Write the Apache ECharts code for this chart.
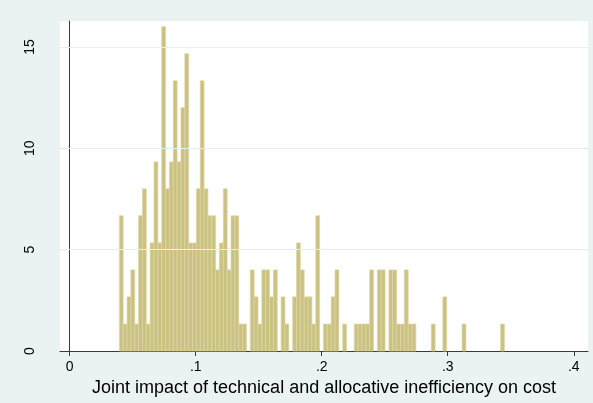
<!DOCTYPE html>
<html>
<head>
<meta charset="utf-8">
<script src="https://cdn.jsdelivr.net/npm/echarts@6/dist/echarts.min.js"></script>
<style>
  html, body { margin: 0; padding: 0; background: #eaf2f3; }
  #chart { width: 593px; height: 403px; }
</style>
</head>
<body>
<div id="chart"></div>
<script>
// Histogram of the joint cost-inefficiency measure: 100 equal-width bins, density scale.
const binStart = 0.0394;
const binWidth = 0.003056;

const density = [
  6.67, 1.33, 2.67, 4, 1.33, 6.67, 8, 1.33, 5.33, 9.33,
  5.33, 16, 8, 9.33, 13.33, 9.33, 12, 14.67, 5.33, 5.33,
  8, 13.33, 8, 6.67, 6.67, 4, 5.33, 8, 4, 6.67,
  6.67, 1.33, 1.33, 0, 4, 2.67, 1.33, 4, 4, 2.67,
  4, 0, 2.67, 1.33, 0, 2.67, 5.33, 4, 2.67, 2.67,
  1.33, 6.67, 0, 1.33, 1.33, 2.67, 4, 0, 1.33, 0,
  0, 1.33, 1.33, 1.33, 1.33, 4, 0, 4, 4, 0,
  4, 4, 1.33, 1.33, 4, 1.33, 1.33, 0, 0, 0,
  0, 1.33, 0, 0, 2.67, 0, 0, 0, 0, 1.33,
  0, 0, 0, 0, 0, 0, 0, 0, 0, 1.33
];

const xTicks = [0, 0.1, 0.2, 0.3, 0.4];
const xTickLabels = ['0', '.1', '.2', '.3', '.4'];
const yTicks = [0, 5, 10, 15];
const yGridLines = [5, 10, 15];
const xTitle = 'Joint impact of technical and allocative inefficiency on cost';

// Each bar: [left edge, right edge, density]
const bars = density
  .map((d, i) => [binStart + i * binWidth, binStart + (i + 1) * binWidth, d])
  .filter(b => b[2] > 0);

const FONT = '"Liberation Sans", Arial, Helvetica, sans-serif';
const AXIS_COLOR = '#3a3a3a';

const chart = echarts.init(document.getElementById('chart'), null, { renderer: 'canvas' });

chart.setOption({
  animation: false,
  backgroundColor: '#eaf2f3',
  textStyle: { fontFamily: FONT },
  grid: {
    left: 60, right: 5, top: 21, bottom: 52,
    show: true, backgroundColor: '#ffffff', borderWidth: 0
  },
  xAxis: {
    type: 'value',
    min: -0.0077,
    max: 0.4113,
    name: xTitle,
    nameLocation: 'middle',
    nameGap: 24,
    nameTextStyle: { fontSize: 18, color: '#000', fontFamily: FONT },
    axisLine: { show: true, onZero: false, lineStyle: { color: AXIS_COLOR, width: 1 } },
    axisTick: { show: true, customValues: xTicks, length: 5, lineStyle: { color: AXIS_COLOR } },
    axisLabel: {
      customValues: xTicks,
      formatter: v => xTickLabels[xTicks.findIndex(t => Math.abs(t - v) < 1e-9)],
      fontSize: 14, color: '#000', margin: 9, fontFamily: FONT
    },
    splitLine: { show: false }
  },
  yAxis: {
    type: 'value',
    min: 0,
    max: 16.28,
    axisLine: { show: true, lineStyle: { color: AXIS_COLOR, width: 1 } },
    axisTick: { show: true, customValues: yTicks, length: 6, lineStyle: { color: AXIS_COLOR } },
    axisLabel: {
      customValues: yTicks,
      rotate: 90,
      fontSize: 14, color: '#000', margin: 23, fontFamily: FONT
    },
    splitLine: { show: false }
  },
  series: [
    {
      // horizontal grid lines behind the bars
      type: 'line',
      data: [],
      z: 1,
      silent: true,
      markLine: {
        silent: true,
        symbol: 'none',
        label: { show: false },
        lineStyle: { color: '#e6eff0', width: 1, type: 'solid' },
        data: yGridLines.map(v => ({ yAxis: v }))
      }
    },
    {
      type: 'custom',
      z: 2,
      data: bars,
      encode: { x: [0, 1], y: 2 },
      renderItem: (params, api) => {
        const topLeft = api.coord([api.value(0), api.value(2)]);
        const bottomRight = api.coord([api.value(1), 0]);
        return {
          type: 'rect',
          shape: {
            x: topLeft[0],
            y: topLeft[1],
            width: bottomRight[0] - topLeft[0],
            height: bottomRight[1] - topLeft[1]
          },
          style: { fill: '#cbc282', stroke: '#dcd6a6', lineWidth: 0.7 }
        };
      }
    }
  ]
});
</script>
</body>
</html>
